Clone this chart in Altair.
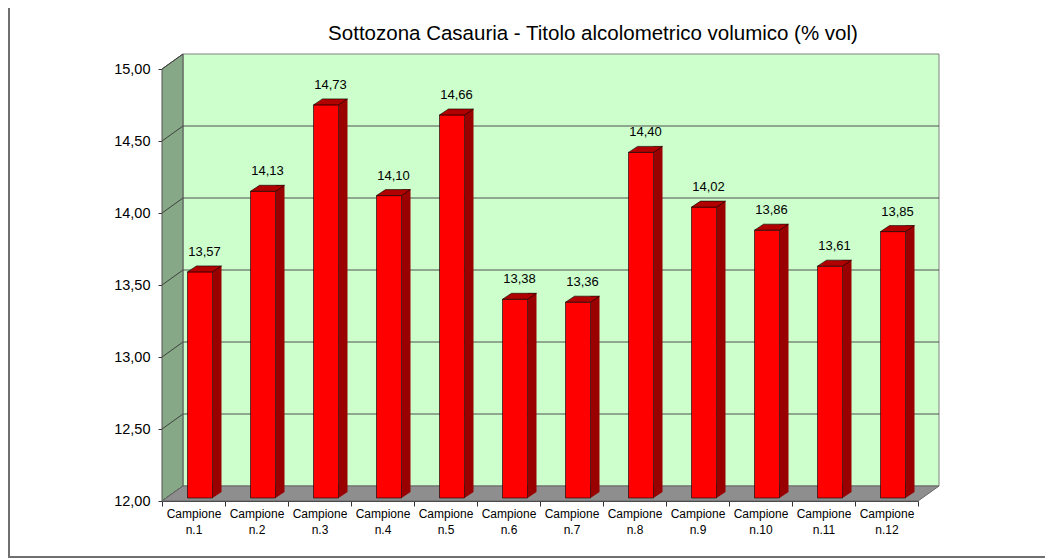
import altair as alt
import pandas as pd

categories = [f"Campione n.{i}" for i in range(1, 13)]
values = [13.57, 14.13, 14.73, 14.10, 14.66, 13.38, 13.36, 14.40, 14.02, 13.86, 13.61, 13.85]
value_labels = ["13,57", "14,13", "14,73", "14,10", "14,66", "13,38", "13,36",
                "14,40", "14,02", "13,86", "13,61", "13,85"]
y_ticks = [12.0, 12.5, 13.0, 13.5, 14.0, 14.5, 15.0]
grid_ticks = [12.5, 13.0, 13.5, 14.0, 14.5]
title_text = "Sottozona Casauria - Titolo alcolometrico volumico (% vol)"

FONT = "Liberation Sans"
W, H = 756, 432
DX, DY = 21, -15  # depth of the 3D box

df = pd.DataFrame({"cat": categories, "val": values, "lab": value_labels})
one = pd.DataFrame({"cat": [categories[0]], "val": [12.0]})
grid_df = pd.DataFrame({"val": grid_ticks})
tick_df = pd.DataFrame({"val": y_ticks})

xscale = alt.Scale(domain=categories, paddingInner=0, paddingOuter=0)
yscale = alt.Scale(domain=[12, 15], nice=False, zero=False)

xaxis = alt.Axis(title=None, labelExpr="split(datum.label, ' ')", labelAngle=0,
                 labelFont=FONT, labelFontSize=12, labelColor="#000",
                 labelLineHeight=16, labelPadding=2, tickBand="extent",
                 tickSize=5, tickColor="#333", domainColor="#333", grid=False)
yaxis = alt.Axis(title=None, values=y_ticks,
                 labelExpr="replace(format(datum.value, '.2f'), '.', ',')",
                 labelFont=FONT, labelFontSize=14.5, labelColor="#000",
                 labelPadding=8, tickSize=4, tickColor="#333", domainColor="#333",
                 grid=False)

X = alt.X("cat:N", sort=categories, scale=xscale, axis=xaxis)
Y = alt.Y("val:Q", scale=yscale, axis=yaxis)

# back wall
back = alt.Chart(one).mark_rect(fill="#CCFFCC", stroke="#808080", strokeWidth=1).encode(
    x=alt.value(DX), x2=alt.value(W + DX), y=alt.value(DY), y2=alt.value(H + DY))

grid = alt.Chart(grid_df).mark_rule(color="#505050", strokeWidth=1, yOffset=DY).encode(
    y=Y, x=alt.value(DX), x2=alt.value(W + DX))

left_wall = alt.Chart(one).mark_point(
    shape=f"M0,0 L{DX},{DY} L{DX},{H + DY} L0,{H} Z", size=4, filled=True,
    fill="#86A886", stroke="#555555", strokeWidth=1, opacity=1).encode(
    x=alt.value(0), y=alt.value(0))

wall_lines = alt.Chart(tick_df).mark_point(
    shape=f"M0,0 L{DX},{DY}", size=4, filled=False, stroke="#404040",
    strokeWidth=1, opacity=1).encode(x=alt.value(0), y=Y)

floor = alt.Chart(one).mark_point(
    shape=f"M0,{H} L{DX},{H + DY} L{W + DX},{H + DY} L{W},{H} Z", size=4, filled=True,
    fill="#8E8E8E", stroke="#666666", strokeWidth=1, opacity=1).encode(
    x=alt.value(0), y=alt.value(0))

DARK = "#990000"
side = alt.Chart(df).mark_bar(width=9, xOffset=23.5, yOffset=-9, y2Offset=-9,
                              color=DARK).encode(x=X, y=Y, y2=alt.datum(12))
side_bottom = alt.Chart(df).mark_point(
    shape="M19,-3 L19,-9 L28,-9 Z", size=4, filled=True, fill=DARK,
    opacity=1, strokeWidth=0).encode(x=X, y=alt.datum(12))
top_face = alt.Chart(df).mark_point(
    shape="M-6,-3 L19,-3 L28,-9 L3,-9 Z", size=4, filled=True, fill="#B00000",
    stroke="#000000", strokeWidth=0.6, opacity=1).encode(x=X, y=Y)
front = alt.Chart(df).mark_bar(width=25, xOffset=6.5, yOffset=-3, y2Offset=-3,
                               color="#FF0000", stroke="#000000", strokeWidth=0.6).encode(
    x=X, y=Y, y2=alt.datum(12))
labels = alt.Chart(df).mark_text(font=FONT, fontSize=13, color="#000", dx=11, dy=-23,
                                 baseline="middle").encode(
    x=X, y=Y, text="lab:N")

title_mark = alt.Chart(one).mark_text(font=FONT, fontSize=20.5, color="#000",
                                      baseline="middle", align="center").encode(
    x=alt.value(431), y=alt.value(-35), text=alt.value(title_text))

frame_bottom = alt.Chart(one).mark_rule(color="#707070", strokeWidth=2).encode(
    x=alt.value(-154), x2=alt.value(890), y=alt.value(488))
frame_left = alt.Chart(one).mark_rule(color="#707070", strokeWidth=2).encode(
    x=alt.value(-153), y=alt.value(-61), y2=alt.value(488))

chart = alt.layer(
    back, grid, left_wall, wall_lines, floor, side, side_bottom, front, top_face,
    labels, title_mark, frame_bottom, frame_left
).properties(
    width=W, height=H,
    autosize=alt.AutoSizeParams(type="none"),
    padding={"left": 154, "top": 61, "right": 127, "bottom": 58},
).configure_view(stroke=None)

chart.save("out.html", embed_options={"renderer": "svg", "actions": False})
